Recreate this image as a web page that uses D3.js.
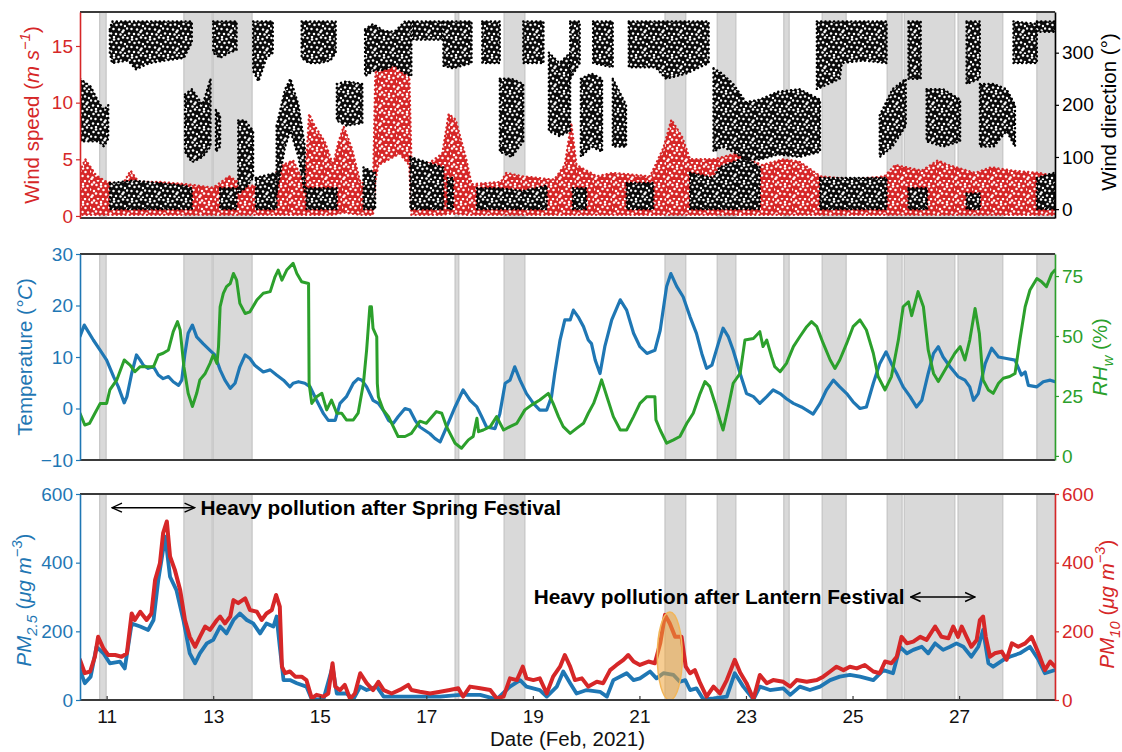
<!DOCTYPE html>
<html>
<head>
<meta charset="utf-8">
<script src="https://cdn.jsdelivr.net/npm/d3@7"></script>
<style>
  body { margin: 0; background: #fff; }
  text { font-family: "Liberation Sans", Arial, Helvetica, sans-serif; }
</style>
</head>
<body>
<svg id="chart" width="1122" height="752"></svg>
<script>
// ---- Time axis (day of February 2021) ----
const dayTicks = [11, 13, 15, 17, 19, 21, 23, 25, 27];

// Shaded periods [start day, end day]
const shadeBands = [
  [10.87, 10.99], [12.45, 12.98], [13.0, 13.73], [17.54, 17.61], [18.46, 18.85],
  [21.48, 21.87], [22.46, 22.81], [23.71, 23.81], [24.43, 24.88], [25.65, 25.93],
  [25.97, 26.92], [26.98, 27.82], [28.46, 28.8]
];

// ---- Wind speed scatter envelope: [day, low, high] in m/s ----
const windSpeedBand = [
  [10.5,0.1,4.0],[10.6,0.1,5.0],[10.8,0.1,3.6],[11.0,0.1,3.0],[11.3,0.1,2.8],[11.45,0.1,4.0],
  [11.6,0.1,3.0],[12.0,0.1,3.0],[12.5,0.1,2.8],[13.0,0.1,2.5],[13.3,0.1,3.5],[13.6,0.1,2.6],
  [14.0,0.1,2.8],[14.3,0.1,4.5],[14.5,0.1,4.9],[14.72,0.1,2.8],[14.8,0.1,9.0],[14.9,0.1,8.0],
  [15.1,0.1,6.5],[15.25,0.1,4.5],[15.35,0.2,6.5],[15.45,0.3,7.9],[15.6,0.2,6.0],[15.76,0.1,3.0],
  [16.0,0.1,2.6],[16.04,3.0,12.0],[16.1,4.5,16.0],[16.3,5.0,15.5],[16.5,5.5,13.8],[16.68,4.5,12.5],
  [16.72,0.1,5.0],[17.0,0.1,4.5],[17.3,0.1,5.5],[17.42,0.2,9.0],[17.55,0.2,8.5],[17.75,0.1,5.0],
  [17.85,0.1,2.8],[18.4,0.1,3.0],[18.5,0.1,3.8],[18.8,0.1,3.5],[19.4,0.1,3.2],[19.6,0.1,4.5],
  [19.72,0.1,8.2],[19.82,0.1,4.5],[20.2,0.1,3.5],[20.5,0.1,3.8],[21.2,0.1,3.5],[21.45,0.1,6.0],
  [21.6,0.1,8.5],[21.8,0.1,7.0],[21.95,0.1,5.0],[22.4,0.1,5.0],[22.8,0.1,5.5],[23.3,0.1,4.5],
  [23.7,0.1,5.0],[24.0,0.1,4.8],[24.4,0.1,3.5],[25.0,0.1,3.2],[25.6,0.1,3.5],[25.8,0.1,4.5],
  [26.3,0.1,4.0],[26.6,0.1,4.9],[26.8,0.1,4.5],[27.3,0.1,3.8],[27.6,0.1,4.3],[28.0,0.1,4.0],
  [28.5,0.1,3.8],[28.8,0.1,3.5]
];

// ---- Wind direction scatter clusters: segments of [day, low, high] in degrees ----
const windDirHigh = [
  [[11.06,300,345],[11.1,280,360],[11.4,285,360],[11.55,268,360],[11.8,280,360],[12.1,285,360],[12.45,290,360],[12.6,320,360]],
  [[13.0,300,360],[13.13,290,360],[13.3,300,360],[13.44,305,360]],
  [[13.75,265,360],[13.85,245,360],[14.0,290,360],[14.12,300,360]],
  [[14.66,290,360],[14.8,280,360],[15.0,280,360],[15.2,285,360],[15.3,300,360]],
  [[15.85,255,345],[16.0,265,355],[16.2,267,342],[16.4,275,340],[16.6,260,360],[16.72,255,360]],
  [[16.75,325,360],[17.3,325,360]],
  [[17.32,275,360],[17.5,270,360],[17.85,280,360]],
  [[18.05,280,360],[18.38,280,360]],
  [[18.82,280,360],[19.2,280,360]],
  [[19.7,250,360],[19.88,280,360]],
  [[20.13,280,360],[20.5,272,360]],
  [[20.8,272,360],[21.3,272,360],[21.5,250,360],[21.88,260,360],[22.3,280,360]],
  [[24.33,230,360],[24.76,250,360],[24.8,280,360],[25.2,285,360],[25.64,280,360]],
  [[26.05,250,360],[26.28,250,360]],
  [[27.14,240,360],[27.39,250,360]],
  [[28.02,280,360],[28.46,280,355]],
  [[28.46,340,360],[28.8,340,360]]
];
const windDirMid = [
  [[10.5,130,250],[10.7,130,235],[10.85,130,205],[10.95,120,190],[11.03,135,200]],
  [[12.47,110,220],[12.6,90,230],[12.8,100,200],[12.95,120,250]],
  [[13.05,110,190],[13.13,120,180]],
  [[13.47,30,170],[13.6,40,170],[13.75,60,150]],
  [[14.19,30,160],[14.35,120,230],[14.45,150,250],[14.6,100,200],[14.72,30,120]],
  [[15.32,170,240],[15.5,160,245],[15.8,165,240]],
  [[18.38,110,250],[18.6,100,250],[18.82,130,240]],
  [[19.3,150,300],[19.5,140,280],[19.7,150,300]],
  [[19.9,100,250],[20.1,120,260],[20.3,110,250]],
  [[20.5,120,250],[20.75,120,200]],
  [[22.39,110,270],[22.55,120,260],[22.76,110,240],[23.0,95,205],[23.26,95,210],[23.6,105,225],[24.0,100,230],[24.39,110,210]],
  [[25.51,100,180],[25.75,120,230],[26.0,160,250]],
  [[26.39,130,230],[26.7,120,230],[27.02,130,210]],
  [[27.39,120,240],[27.65,120,240],[27.89,150,230],[28.05,120,200]]
];
const windDirLow = [
  [[11.06,0,50],[11.5,0,55],[12.0,0,50],[12.47,0,45],[12.6,0,40]],
  [[13.13,0,40],[13.44,0,40]],
  [[13.8,0,60],[14.19,0,70]],
  [[14.75,0,40],[15.32,0,40]],
  [[15.82,0,80],[16.04,0,70]],
  [[16.7,0,100],[17.0,0,90],[17.32,0,80]],
  [[17.4,0,60],[17.5,0,60]],
  [[17.95,0,40],[18.38,0,40],[18.82,0,35],[19.26,0,45]],
  [[19.75,0,40],[20.0,0,40]],
  [[20.76,0,50],[21.26,0,50]],
  [[21.95,0,70],[22.39,0,60],[22.5,0,80],[23.0,0,100],[23.26,0,80]],
  [[24.39,0,60],[24.76,0,60],[25.2,0,60],[25.64,0,60]],
  [[26.05,0,40],[26.4,0,40]],
  [[27.14,0,30],[27.39,0,30]],
  [[28.46,0,60],[28.8,0,70]]
];

// ---- Temperature [day, °C] ----
const temperature = [
  [10.5,14.0],[10.58,16.2],[10.62,15.5],[10.75,13.3],[10.88,11.3],[11.0,9.4],[11.13,6.2],[11.22,4.2],
  [11.33,1.1],[11.38,2.3],[11.47,6.8],[11.56,10.4],[11.63,9.4],[11.69,8.4],[11.78,7.8],[11.88,8.1],
  [11.97,6.5],[12.06,5.8],[12.16,6.2],[12.25,5.2],[12.35,4.5],[12.41,5.5],[12.47,10.7],[12.53,14.6],
  [12.61,16.2],[12.69,13.9],[12.81,12.6],[12.94,11.3],[13.03,10.4],[13.13,7.5],[13.22,5.5],[13.32,3.9],
  [13.41,4.9],[13.5,8.1],[13.6,10.4],[13.69,9.7],[13.78,8.4],[13.94,7.1],[14.07,7.5],[14.19,6.5],
  [14.32,5.5],[14.44,4.2],[14.5,4.9],[14.6,5.2],[14.72,4.9],[14.82,4.2],[14.94,1.6],[15.07,-1.0],
  [15.16,-2.3],[15.29,-2.3],[15.38,1.0],[15.5,2.3],[15.63,4.9],[15.72,5.8],[15.79,5.5],[15.88,4.2],
  [16.0,1.6],[16.1,1.0],[16.19,-0.3],[16.29,-2.3],[16.38,-2.9],[16.47,-1.6],[16.6,0],[16.69,-0.3],
  [16.79,-2.3],[16.88,-3.6],[17.07,-4.9],[17.16,-5.8],[17.26,-6.5],[17.38,-3.6],[17.54,0.3],[17.69,3.6],
  [17.82,1.6],[17.95,0.3],[18.04,-1.6],[18.13,-3.6],[18.29,-3.9],[18.38,-1.0],[18.48,4.9],[18.57,5.5],
  [18.66,8.1],[18.76,5.5],[18.88,2.9],[19.01,1.0],[19.13,-0.3],[19.26,-0.3],[19.35,2.3],[19.41,6.8],
  [19.51,13.3],[19.6,17.2],[19.7,17.2],[19.76,19.1],[19.85,17.8],[19.95,15.9],[20.04,13.3],[20.1,12.6],
  [20.17,9.4],[20.26,6.8],[20.35,12.0],[20.48,17.2],[20.64,21.1],[20.76,19.1],[20.89,14.6],[21.01,12.0],
  [21.14,10.7],[21.29,11.3],[21.39,15.2],[21.51,23.7],[21.59,26.2],[21.7,23.7],[21.82,21.7],[21.95,17.8],
  [22.07,14.6],[22.17,10.7],[22.26,7.8],[22.36,8.4],[22.48,12.6],[22.57,15.6],[22.67,13.9],[22.76,11.3],
  [22.89,6.8],[23.01,2.9],[23.14,2.3],[23.26,1.0],[23.39,2.3],[23.51,3.6],[23.64,2.9],[23.76,1.9],
  [23.89,1.0],[24.04,0.3],[24.14,-0.3],[24.26,-1.1],[24.39,1.0],[24.51,3.6],[24.64,5.5],[24.76,4.2],
  [24.89,2.9],[25.01,1.3],[25.14,0],[25.26,0.3],[25.39,4.9],[25.51,8.7],[25.63,11.0],[25.73,8.7],
  [25.83,6.8],[25.95,4.2],[26.08,2.3],[26.2,0.3],[26.3,1.6],[26.42,6.8],[26.52,10.7],[26.61,12.0],
  [26.7,10.0],[26.83,8.1],[26.98,6.2],[27.11,5.5],[27.2,4.2],[27.27,1.6],[27.36,2.9],[27.49,8.7],
  [27.61,11.7],[27.74,10.0],[27.89,9.7],[28.05,9.4],[28.17,6.5],[28.24,7.1],[28.3,4.5],[28.46,4.2],
  [28.58,5.2],[28.71,5.5],[28.8,5.2]
];

// ---- Relative humidity RHw [day, %] ----
const humidity = [
  [10.5,17.8],[10.59,12.9],[10.68,13.6],[10.78,17.8],[10.88,21.9],[11.0,21.9],[11.06,27.5],[11.19,31.7],
  [11.33,40.0],[11.44,37.9],[11.53,35.1],[11.63,37.2],[11.75,37.2],[11.88,37.2],[11.97,42.1],[12.06,42.8],
  [12.16,44.2],[12.25,51.8],[12.33,56.0],[12.38,52.5],[12.45,37.2],[12.53,26.1],[12.61,20.6],[12.69,26.1],
  [12.75,31.7],[12.85,34.4],[12.94,38.6],[13.0,42.1],[13.07,38.6],[13.1,45.6],[13.13,62.2],[13.19,67.8],
  [13.25,70.6],[13.32,71.9],[13.38,76.1],[13.44,73.3],[13.5,63.6],[13.6,59.4],[13.69,60.1],[13.82,65.0],
  [13.94,67.8],[14.07,68.5],[14.16,74.7],[14.22,77.5],[14.29,73.3],[14.38,77.5],[14.5,80.3],[14.57,76.1],
  [14.66,72.6],[14.79,71.9],[14.8,30.3],[14.85,21.9],[14.94,24.7],[15.04,26.1],[15.13,19.2],[15.22,23.3],
  [15.32,17.8],[15.41,17.8],[15.5,15.0],[15.63,15.0],[15.72,17.8],[15.82,30.3],[15.88,44.2],[15.94,62.2],
  [15.97,62.2],[16.0,53.2],[16.07,49.7],[16.08,30.3],[16.1,24.7],[16.19,19.2],[16.29,16.4],[16.38,12.2],
  [16.47,8.1],[16.6,8.1],[16.72,9.4],[16.88,14.5],[17.0,13.6],[17.19,18.5],[17.29,17.8],[17.38,12.2],
  [17.54,5.3],[17.66,3.2],[17.79,6.7],[17.88,8.1],[17.95,15.7],[17.98,10.1],[18.07,10.8],[18.2,12.2],
  [18.32,16.4],[18.45,10.8],[18.57,12.2],[18.7,13.6],[18.85,19.2],[18.98,21.3],[19.13,23.3],[19.29,26.1],
  [19.38,21.9],[19.48,16.4],[19.57,12.2],[19.7,9.4],[19.82,11.5],[19.95,13.6],[20.04,17.8],[20.14,21.9],
  [20.23,27.5],[20.29,31.7],[20.39,24.7],[20.51,16.4],[20.64,10.8],[20.76,10.8],[20.89,16.4],[21.01,21.9],
  [21.14,24.7],[21.29,24.7],[21.31,15.0],[21.39,10.8],[21.51,5.3],[21.64,6.7],[21.76,8.1],[21.89,13.6],
  [22.01,17.8],[22.14,26.1],[22.23,31.0],[22.32,28.9],[22.42,21.9],[22.51,15.0],[22.57,10.8],[22.67,20.6],
  [22.76,30.3],[22.89,34.4],[22.98,48.3],[23.14,49.0],[23.26,51.8],[23.32,45.6],[23.39,48.3],[23.48,41.4],
  [23.54,37.2],[23.64,35.1],[23.76,38.6],[23.89,45.6],[24.01,49.7],[24.14,53.9],[24.23,56.0],[24.33,53.9],
  [24.45,46.9],[24.58,40.0],[24.67,36.5],[24.76,40.0],[24.89,46.9],[25.01,53.9],[25.14,56.7],[25.26,52.5],
  [25.39,42.8],[25.48,33.1],[25.61,27.5],[25.73,33.1],[25.86,48.3],[25.95,62.2],[26.05,64.3],[26.11,58.5],
  [26.23,68.5],[26.33,62.2],[26.42,44.2],[26.52,34.4],[26.61,31.0],[26.77,37.2],[26.92,42.8],[27.02,45.6],
  [27.11,40.0],[27.2,48.3],[27.3,61.5],[27.38,51.1],[27.45,31.7],[27.55,27.5],[27.64,26.1],[27.74,30.3],
  [27.83,32.4],[27.95,33.1],[28.05,34.4],[28.14,48.3],[28.24,62.2],[28.33,69.2],[28.46,74.0],[28.55,72.6],
  [28.64,70.6],[28.74,76.1],[28.8,77.5]
];

// ---- PM2.5 [day, µg/m3] ----
const pm25 = [
  [10.5,87],[10.59,49],[10.7,68],[10.81,155],[10.94,136],[11.06,107],[11.25,112],[11.34,92],[11.47,223],
  [11.63,214],[11.78,204],[11.88,233],[11.97,350],[12.1,476],[12.19,359],[12.31,320],[12.44,233],[12.56,136],
  [12.66,107],[12.75,136],[12.88,165],[13.0,175],[13.13,214],[13.25,194],[13.38,233],[13.5,252],[13.63,233],
  [13.75,223],[13.88,194],[14.0,223],[14.13,214],[14.19,243],[14.25,155],[14.32,58],[14.44,58],[14.57,49],
  [14.75,39],[14.85,2],[15.07,2],[15.24,97],[15.32,19],[15.5,19],[15.63,2],[15.76,39],[15.88,29],[16.07,39],
  [16.2,10],[16.51,10],[16.88,10],[17.26,10],[17.63,15],[18.01,15],[18.32,2],[18.57,39],[18.76,58],[18.88,39],
  [19.13,29],[19.26,10],[19.45,39],[19.57,83],[19.7,49],[19.82,19],[20.01,29],[20.26,24],[20.39,10],[20.51,58],
  [20.76,78],[20.89,58],[21.01,63],[21.2,83],[21.32,63],[21.45,78],[21.64,73],[21.76,53],[21.86,58],[21.95,29],
  [22.07,34],[22.2,2],[22.39,5],[22.64,10],[22.79,78],[22.95,39],[23.14,2],[23.26,39],[23.45,29],[23.7,34],
  [23.83,15],[24.01,39],[24.2,29],[24.39,39],[24.58,58],[24.76,68],[24.95,73],[25.14,68],[25.39,58],[25.58,87],
  [25.76,78],[25.89,155],[26.02,136],[26.14,146],[26.3,155],[26.42,136],[26.55,165],[26.7,146],[26.83,155],
  [26.95,165],[27.08,155],[27.23,126],[27.36,155],[27.45,204],[27.55,107],[27.64,97],[27.83,117],[27.95,126],
  [28.14,136],[28.33,155],[28.49,117],[28.61,78],[28.8,87]
];

// ---- PM10 [day, µg/m3] ----
const pm10 = [
  [10.5,117],[10.59,78],[10.69,83],[10.78,126],[10.84,184],[10.94,150],[11.03,131],[11.16,131],[11.28,126],
  [11.38,136],[11.47,252],[11.53,233],[11.63,257],[11.75,233],[11.84,252],[11.91,350],[12.0,398],[12.06,486],
  [12.13,520],[12.19,418],[12.28,379],[12.38,320],[12.47,233],[12.56,184],[12.66,155],[12.75,184],[12.85,214],
  [12.94,204],[13.07,233],[13.13,243],[13.22,223],[13.32,243],[13.38,291],[13.47,282],[13.6,296],[13.69,262],
  [13.82,257],[13.91,233],[14.0,252],[14.1,262],[14.18,306],[14.25,272],[14.29,97],[14.35,78],[14.44,83],
  [14.54,68],[14.66,68],[14.75,58],[14.85,5],[14.94,15],[15.07,10],[15.16,19],[15.24,107],[15.29,39],[15.38,29],
  [15.47,44],[15.57,3],[15.66,19],[15.76,78],[15.88,49],[16.0,29],[16.1,53],[16.2,29],[16.35,19],[16.51,30],
  [16.66,44],[16.72,29],[16.88,24],[17.07,19],[17.26,24],[17.44,29],[17.6,34],[17.69,10],[17.82,39],[18.01,34],
  [18.2,29],[18.32,5],[18.45,10],[18.57,63],[18.7,58],[18.81,97],[18.88,63],[19.01,58],[19.13,63],[19.26,19],
  [19.38,68],[19.51,97],[19.6,131],[19.7,97],[19.79,58],[19.92,63],[20.04,39],[20.2,53],[20.32,49],[20.45,87],
  [20.57,102],[20.7,117],[20.79,131],[20.89,112],[21.01,102],[21.17,112],[21.29,107],[21.39,165],[21.48,248],
  [21.57,223],[21.67,184],[21.79,184],[21.87,97],[21.95,78],[22.04,87],[22.14,49],[22.26,10],[22.39,39],
  [22.51,19],[22.64,58],[22.79,117],[22.89,80],[23.01,49],[23.14,3],[23.26,73],[23.39,49],[23.51,58],[23.7,53],
  [23.83,39],[23.95,58],[24.14,53],[24.33,58],[24.45,68],[24.58,83],[24.7,97],[24.83,87],[24.95,97],[25.08,92],
  [25.23,102],[25.39,83],[25.51,78],[25.61,112],[25.73,107],[25.83,126],[25.92,184],[26.02,165],[26.14,170],
  [26.27,184],[26.39,175],[26.55,214],[26.67,184],[26.8,180],[26.89,214],[26.98,184],[27.05,214],[27.14,184],
  [27.23,155],[27.33,175],[27.39,233],[27.45,243],[27.5,184],[27.58,126],[27.67,136],[27.8,141],[27.89,117],
  [27.99,165],[28.11,155],[28.24,165],[28.36,184],[28.49,136],[28.61,87],[28.71,112],[28.8,97]
];

// ---- Annotations ----
const springArrow = [11.1, 12.65];     // days spanned, drawn at PM level 560
const lanternArrow = [26.09, 27.3];    // days spanned, drawn at PM level 300
const lanternPeak = { day: 21.57, value: 128, halfDays: 0.235, halfValue: 128 };

// ---- Colours ----
const RED = "#d62728", BLUE = "#1f77b4", GREEN = "#2ca02c", FRAME = "#3a3a3a";

// ---- Layout ----
const left = 80, right = 1055;
const panels = {
  wind: { top: 12, bottom: 218 },
  met:  { top: 254, bottom: 460 },
  pm:   { top: 494, bottom: 700 }
};
const TICK_FONT = 19, TITLE_FONT = 20.5, NOTE_FONT = 20.8;

const svg = d3.select("#chart");
const x = d3.scaleLinear().domain([10.5, 28.8]).range([left, right]);

const ySpeed = d3.scaleLinear().domain([-0.18, 18]).range([panels.wind.bottom, panels.wind.top]);
const yDir   = d3.scaleLinear().domain([-17, 378]).range([panels.wind.bottom, panels.wind.top]);
const yTemp  = d3.scaleLinear().domain([-10, 30]).range([panels.met.bottom, panels.met.top]);
const yRH    = d3.scaleLinear().domain([-1.7, 84.2]).range([panels.met.bottom, panels.met.top]);
const yPM25  = d3.scaleLinear().domain([0, 600]).range([panels.pm.bottom, panels.pm.top]);
const yPM10  = d3.scaleLinear().domain([0, 600]).range([panels.pm.bottom, panels.pm.top]);

// ---- Grainy fills for the dense scatter clouds ----
const defs = svg.append("defs");
function grainPattern(id, color, size, holes, r) {
  const p = defs.append("pattern").attr("id", id)
    .attr("width", size).attr("height", size).attr("patternUnits", "userSpaceOnUse");
  p.append("rect").attr("width", size).attr("height", size).attr("fill", color);
  holes.forEach(s => p.append("circle").attr("cx", s[0]).attr("cy", s[1]).attr("r", r).attr("fill", "#fff"));
}
const grain = [
  [1.5,2],[6,1],[10.5,3],[15,1.5],[3.5,6],[8.5,7],[13,6.5],[17,8],[1,10.5],[5.5,11],
  [11,11.5],[15.5,12.5],[3,15.5],[8,16],[12.5,16.5],[17,17.5],[6,3.5],[14.5,14]
];
grainPattern("grainBlack", "#0c0c0c", 18, grain, 1.25);
grainPattern("grainRed", RED, 18, grain.map(s => [(s[0] + 5) % 18, (s[1] + 3) % 18]), 1.25);

// Clip each panel
Object.entries(panels).forEach(([k, p]) => {
  defs.append("clipPath").attr("id", "clip-" + k)
    .append("rect").attr("x", left).attr("y", p.top).attr("width", right - left).attr("height", p.bottom - p.top);
});

function drawBands(g, p) {
  g.selectAll("rect.band").data(shadeBands).join("rect")
    .attr("class", "band")
    .attr("x", d => x(d[0])).attr("width", d => x(d[1]) - x(d[0]))
    .attr("y", p.top).attr("height", p.bottom - p.top)
    .attr("fill", "#d9d9d9").attr("stroke", "#c4c4c4").attr("stroke-width", 1.2);
}

function drawFrame(p) {
  svg.append("line").attr("x1", left).attr("x2", right).attr("y1", p.top).attr("y2", p.top)
    .attr("stroke", FRAME).attr("stroke-width", 1.8);
  svg.append("line").attr("x1", left).attr("x2", right).attr("y1", p.bottom).attr("y2", p.bottom)
    .attr("stroke", FRAME).attr("stroke-width", 2);
}

function styleAxis(g, color) {
  g.select(".domain").attr("stroke", color).attr("stroke-width", 1.6);
  g.selectAll(".tick line").attr("stroke", color).attr("stroke-width", 1.2);
  g.selectAll(".tick text").attr("fill", color).attr("font-size", TICK_FONT)
    .attr("font-family", '"Liberation Sans", Arial, sans-serif');
}

function leftAxis(scale, ticks, color) {
  const g = svg.append("g").attr("transform", `translate(${left},0)`)
    .call(d3.axisLeft(scale).tickValues(ticks).tickSize(4).tickSizeOuter(0).tickPadding(3));
  styleAxis(g, color);
}
function rightAxis(scale, ticks, color) {
  const g = svg.append("g").attr("transform", `translate(${right},0)`)
    .call(d3.axisRight(scale).tickValues(ticks).tickSize(4).tickSizeOuter(0).tickPadding(3));
  styleAxis(g, color);
}

// Rich text with italic, superscript and subscript runs
function richText(parent, parts, size) {
  let shift = 0;
  parts.forEach(p => {
    const ts = parent.append("tspan").text(p.t);
    const target = p.sup ? -size * 0.42 : p.sub ? size * 0.28 : 0;
    if (target !== shift) ts.attr("dy", target - shift);
    shift = target;
    if (p.sup || p.sub) ts.attr("font-size", size * 0.72);
    if (p.it) ts.attr("font-style", "italic");
  });
}
function axisTitle(cx, cy, color, parts) {
  const t = svg.append("text")
    .attr("transform", `translate(${cx},${cy}) rotate(-90)`)
    .attr("text-anchor", "middle").attr("fill", color).attr("font-size", TITLE_FONT);
  richText(t, parts, TITLE_FONT);
}

// Scatter cloud: grainy fill with a dotted rim so the edge reads as loose points
function cloud(sel, color, fill) {
  sel.attr("fill", fill)
    .attr("stroke", color).attr("stroke-width", 2.4)
    .attr("stroke-dasharray", "0.1 4.2").attr("stroke-linecap", "round")
    .attr("stroke-linejoin", "round");
}

// ================= Panel 1: wind =================
{
  const p = panels.wind;
  const g = svg.append("g");
  drawBands(g, p);
  const data = g.append("g").attr("clip-path", "url(#clip-wind)");

  const speedArea = d3.area().x(d => x(d[0])).y0(d => ySpeed(d[1])).y1(d => ySpeed(d[2]));
  data.append("path").datum(windSpeedBand).attr("d", speedArea).call(cloud, RED, "url(#grainRed)");

  const dirArea = d3.area().x(d => x(d[0])).y0(d => yDir(d[1])).y1(d => yDir(d[2]));
  [windDirLow, windDirMid, windDirHigh].forEach(group => {
    data.selectAll(null).data(group).join("path")
      .attr("d", dirArea).call(cloud, "#000", "url(#grainBlack)");
  });

  drawFrame(p);
  leftAxis(ySpeed, [0, 5, 10, 15], RED);
  rightAxis(yDir, [0, 100, 200, 300], "#000");
  axisTitle(39, 115, RED, [{ t: "Wind speed (" }, { t: "m s", it: true }, { t: "−1", sup: true, it: true }, { t: ")" }]);
  axisTitle(1116, 112, "#000", [{ t: "Wind direction (°)" }]);
}

// ================= Panel 2: temperature & humidity =================
{
  const p = panels.met;
  const g = svg.append("g");
  drawBands(g, p);
  const data = g.append("g").attr("clip-path", "url(#clip-met)");

  data.append("path").datum(temperature)
    .attr("d", d3.line().x(d => x(d[0])).y(d => yTemp(d[1])))
    .attr("fill", "none").attr("stroke", BLUE).attr("stroke-width", 3.2)
    .attr("stroke-linejoin", "round").attr("stroke-linecap", "round");
  data.append("path").datum(humidity)
    .attr("d", d3.line().x(d => x(d[0])).y(d => yRH(d[1])))
    .attr("fill", "none").attr("stroke", GREEN).attr("stroke-width", 3)
    .attr("stroke-linejoin", "round").attr("stroke-linecap", "round");

  drawFrame(p);
  leftAxis(yTemp, [-10, 0, 10, 20, 30], BLUE);
  rightAxis(yRH, [0, 25, 50, 75], GREEN);
  axisTitle(32, 357, BLUE, [{ t: "Temperature (" }, { t: "°C", it: true }, { t: ")" }]);
  axisTitle(1107, 357, GREEN, [{ t: "RH", it: true }, { t: "w", sub: true, it: true }, { t: " (%)" }]);
}

// ================= Panel 3: particulate matter =================
{
  const p = panels.pm;
  const g = svg.append("g");
  drawBands(g, p);
  const data = g.append("g").attr("clip-path", "url(#clip-pm)");

  data.append("path").datum(pm25)
    .attr("d", d3.line().x(d => x(d[0])).y(d => yPM25(d[1])))
    .attr("fill", "none").attr("stroke", BLUE).attr("stroke-width", 3.8)
    .attr("stroke-linejoin", "round").attr("stroke-linecap", "round");
  data.append("path").datum(pm10)
    .attr("d", d3.line().x(d => x(d[0])).y(d => yPM10(d[1])))
    .attr("fill", "none").attr("stroke", RED).attr("stroke-width", 4)
    .attr("stroke-linejoin", "round").attr("stroke-linecap", "round");

  // highlighted peak after the Lantern Festival
  data.append("ellipse")
    .attr("cx", x(lanternPeak.day)).attr("cy", yPM10(lanternPeak.value))
    .attr("rx", x(lanternPeak.day + lanternPeak.halfDays) - x(lanternPeak.day))
    .attr("ry", yPM10(0) - yPM10(lanternPeak.halfValue))
    .attr("fill", "#eea43a").attr("fill-opacity", 0.55)
    .attr("stroke", "#f2b65a").attr("stroke-width", 1.5);

  drawFrame(p);
  leftAxis(yPM25, [0, 200, 400, 600], BLUE);
  rightAxis(yPM10, [0, 200, 400, 600], RED);

  // x axis with day labels
  const xa = svg.append("g").attr("transform", `translate(0,${p.bottom})`)
    .call(d3.axisBottom(x).tickValues(dayTicks).tickSize(-4).tickSizeOuter(0).tickPadding(9.5));
  xa.select(".domain").remove();
  xa.selectAll(".tick line").attr("stroke", FRAME).attr("stroke-width", 1.2);
  xa.selectAll(".tick text").attr("fill", "#111").attr("font-size", TICK_FONT)
    .attr("font-family", '"Liberation Sans", Arial, sans-serif');

  svg.append("text").attr("x", (left + right) / 2).attr("y", 746)
    .attr("text-anchor", "middle").attr("font-size", TITLE_FONT).attr("fill", "#111")
    .text("Date (Feb, 2021)");

  axisTitle(31, 600, BLUE, [{ t: "PM", it: true }, { t: "2.5", sub: true, it: true }, { t: " (" },
    { t: "μg m", it: true }, { t: "−3", sup: true, it: true }, { t: ")" }]);
  axisTitle(1114, 604, RED, [{ t: "PM", it: true }, { t: "10", sub: true, it: true }, { t: " (" },
    { t: "μg m", it: true }, { t: "−3", sup: true, it: true }, { t: ")" }]);

  // double-headed arrows and labels
  const marker = defs.append("marker").attr("id", "head")
    .attr("viewBox", "0 0 12 12").attr("refX", 11).attr("refY", 6)
    .attr("markerWidth", 12).attr("markerHeight", 12).attr("markerUnits", "userSpaceOnUse")
    .attr("orient", "auto-start-reverse");
  marker.append("path").attr("d", "M1,1.5 L11,6 L1,10.5").attr("fill", "none")
    .attr("stroke", "#000").attr("stroke-width", 1.4);

  const springY = yPM10(560), lanternY = yPM10(300);
  svg.append("line").attr("x1", x(springArrow[0])).attr("x2", x(springArrow[1]))
    .attr("y1", springY).attr("y2", springY).attr("stroke", "#000").attr("stroke-width", 1.4)
    .attr("marker-start", "url(#head)").attr("marker-end", "url(#head)");
  svg.append("text").attr("x", x(springArrow[1]) + 6).attr("y", springY + 7)
    .attr("font-size", NOTE_FONT).attr("font-weight", "bold").attr("fill", "#000")
    .text("Heavy pollution after Spring Festival");

  svg.append("line").attr("x1", x(lanternArrow[0])).attr("x2", x(lanternArrow[1]))
    .attr("y1", lanternY).attr("y2", lanternY).attr("stroke", "#000").attr("stroke-width", 1.4)
    .attr("marker-start", "url(#head)").attr("marker-end", "url(#head)");
  svg.append("text").attr("x", x(lanternArrow[0]) - 6).attr("y", lanternY + 7)
    .attr("text-anchor", "end")
    .attr("font-size", NOTE_FONT).attr("font-weight", "bold").attr("fill", "#000")
    .text("Heavy pollution after Lantern Festival");
}
</script>
</body>
</html>
